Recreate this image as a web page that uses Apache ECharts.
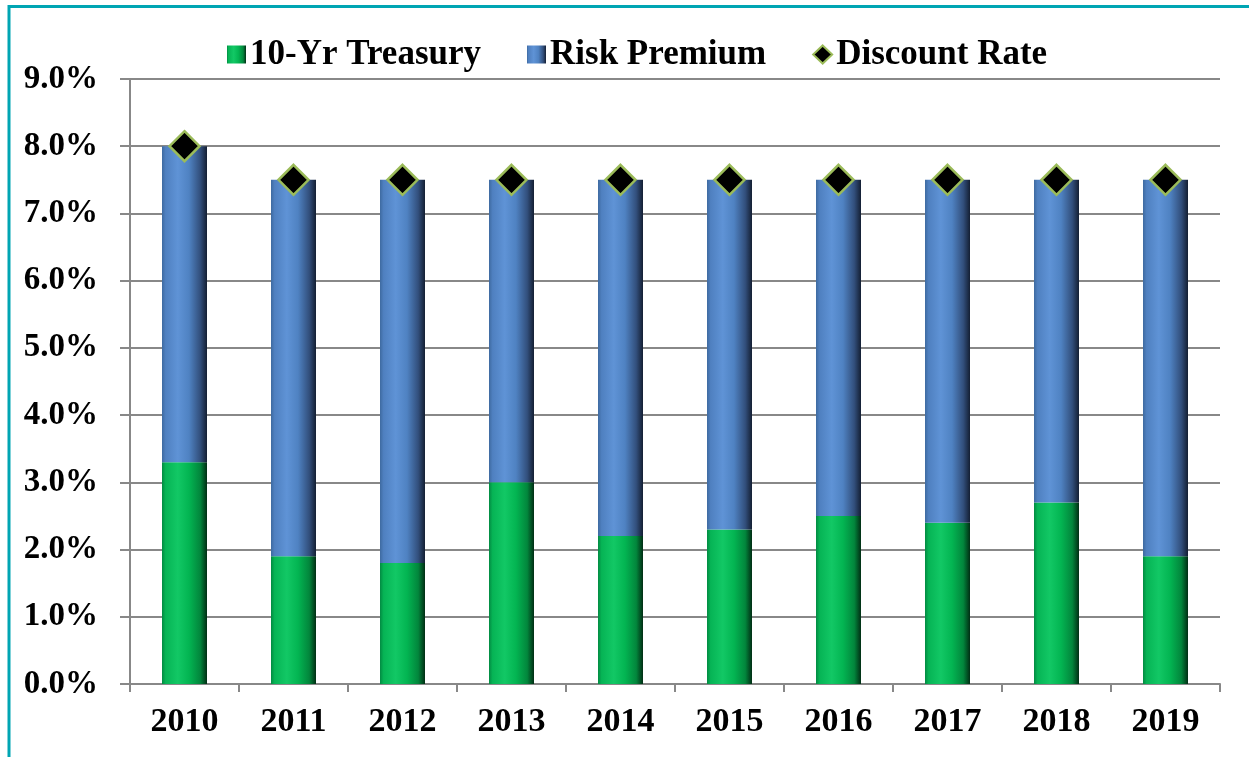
<!DOCTYPE html>
<html>
<head>
<meta charset="utf-8">
<script src="https://cdn.jsdelivr.net/npm/echarts@6/dist/echarts.min.js"></script>
<style>
html,body{margin:0;padding:0;background:#fff;}
#chart{width:1249px;height:757px;}
</style>
</head>
<body>
<div id="chart"></div>
<script>
const years = ['2010','2011','2012','2013','2014','2015','2016','2017','2018','2019'];
const treasury = [3.3, 1.9, 1.8, 3.0, 2.2, 2.3, 2.5, 2.4, 2.7, 1.9];
const riskPremium = [4.7, 5.6, 5.7, 4.5, 5.3, 5.2, 5.0, 5.1, 4.8, 5.6];
const discountRate = [8.0, 7.5, 7.5, 7.5, 7.5, 7.5, 7.5, 7.5, 7.5, 7.5];

const font = '"Liberation Serif", "Times New Roman", serif';

function hGrad(stops){
  return new echarts.graphic.LinearGradient(0,0,1,0, stops.map(s=>({offset:s[0],color:s[1]})));
}
const greenFill = hGrad([[0,'#028a42'],[0.08,'#06b455'],[0.35,'#12c865'],[0.6,'#03b552'],[0.85,'#02863c'],[1,'#012e14']]);
const blueFill = hGrad([[0,'#3e6aa0'],[0.08,'#4f80c0'],[0.35,'#5f93d6'],[0.6,'#4f82c2'],[0.85,'#324f7c'],[1,'#141f33']]);

const chart = echarts.init(document.getElementById('chart'), null, {renderer:'canvas'});
chart.setOption({
  animation:false,
  backgroundColor:'#ffffff',
  graphic:[{
    type:'polyline',
    shape:{points:[[9,757],[9,6.5],[1249,6.5]]},
    style:{stroke:'#00a5b3',lineWidth:3,fill:null},
    silent:true
  }],
  legend:{
    top:32,
    left:222,
    itemWidth:19,
    itemHeight:18,
    itemGap:46,
    textStyle:{fontFamily:font,fontWeight:'bold',fontSize:35,color:'#000',padding:[0,0,0,-1]},
    data:[
      {name:'10-Yr Treasury',icon:'rect'},
      {name:'Risk Premium',icon:'rect'},
      {name:'Discount Rate',icon:'diamond'}
    ]
  },
  grid:{left:130,right:29,top:79,bottom:73,containLabel:false},
  xAxis:{
    type:'category',
    data:years,
    boundaryGap:true,
    axisLine:{lineStyle:{color:'#888',width:2}},
    axisTick:{show:true,length:8,lineStyle:{color:'#888',width:2}},
    axisLabel:{fontFamily:font,fontWeight:'bold',fontSize:34,color:'#000',margin:21}
  },
  yAxis:{
    type:'value',
    min:0,max:9,interval:1,
    axisLine:{show:true,lineStyle:{color:'#888',width:2}},
    axisTick:{show:true,length:10,lineStyle:{color:'#888',width:2}},
    splitLine:{show:true,lineStyle:{color:'#888',width:2}},
    axisLabel:{fontFamily:font,fontWeight:'bold',fontSize:33,color:'#000',margin:32,
      formatter:v=>v.toFixed(1)+'%'}
  },
  series:[
    {name:'10-Yr Treasury',type:'bar',stack:'s',barWidth:45,data:treasury,
     itemStyle:{color:greenFill}},
    {name:'Risk Premium',type:'bar',stack:'s',barWidth:45,data:riskPremium,
     itemStyle:{color:blueFill}},
    {name:'Discount Rate',type:'scatter',data:discountRate,symbol:'diamond',symbolSize:[30,30],z:5,
     itemStyle:{color:'#000',borderColor:'#9bbb59',borderWidth:2.5,opacity:1}}
  ]
});
</script>
</body>
</html>
